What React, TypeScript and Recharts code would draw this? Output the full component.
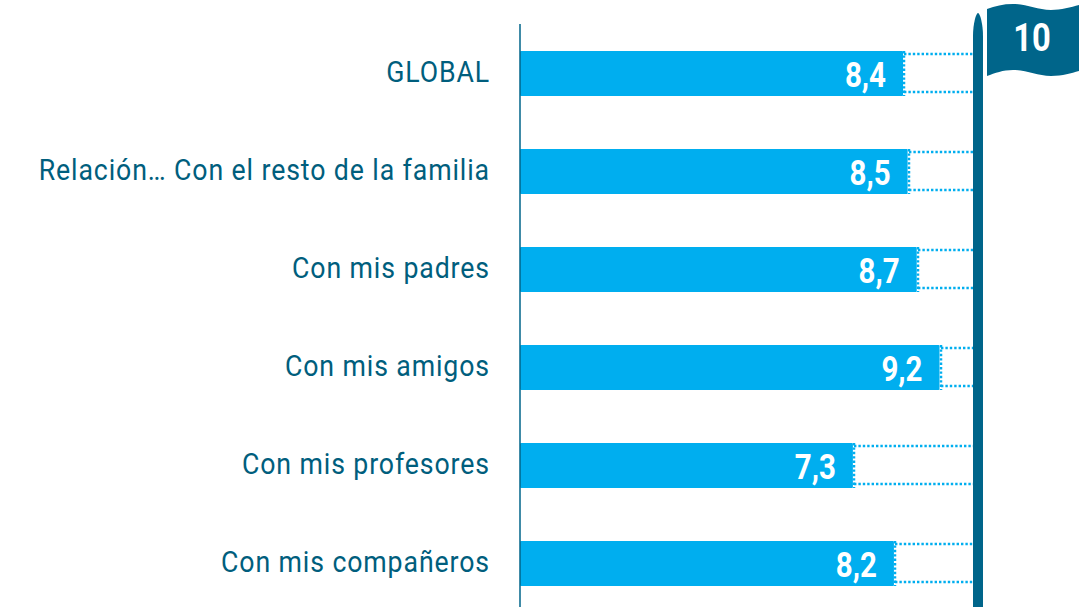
import React from "react";
import { BarChart, Bar, XAxis, YAxis, ReferenceLine, LabelList } from "recharts";

const categories = [
  "GLOBAL",
  "Relación… Con el resto de la familia",
  "Con mis padres",
  "Con mis amigos",
  "Con mis profesores",
  "Con mis compañeros",
];
const values = [8.4, 8.5, 8.7, 9.2, 7.3, 8.2];
const maxScore = 10;

const table = categories.map((name, i) => ({
  name,
  value: values[i],
  rest: +(maxScore - values[i]).toFixed(1),
}));

const BLUE = "#00AEEF";
const DARK = "#00658A";
const TEXT = "#005E7D";
const FONT = 'Roboto, sans-serif';

const DottedRest = (p: any) => {
  const { x, y, width, height } = p;
  const top = Math.round(y) + 3;
  const bottom = Math.round(y + height) - 4;
  const lx = Math.round(x) + 1;
  const common = { stroke: BLUE, strokeWidth: 2.5, strokeDasharray: "2.4 2", fill: "none" };
  return (
    <g>
      <line x1={lx} x2={x + width} y1={top} y2={top} {...common} />
      <line x1={lx} x2={x + width} y1={bottom} y2={bottom} {...common} />
      <line x1={lx} x2={lx} y1={y} y2={y + height} {...common} />
    </g>
  );
};

const Flag = (p: any) => {
  const cx = p.x1 + 2;
  const fx = cx + 9;
  return (
    <g>
      <path
        d={`M${cx - 5} 612 L${cx - 5} 36 C${cx - 5} 24 ${cx - 2} 13 ${cx} 13 C${cx + 2} 13 ${cx + 5} 24 ${cx + 5} 36 L${cx + 5} 612 Z`}
        fill={DARK}
      />
      <path
        d={`M${fx} 9 C${fx + 8} 6 ${fx + 16} 4 ${fx + 26} 4 C${fx + 40} 4 ${fx + 50} 10 ${fx + 64} 10 C${fx + 74} 10 ${fx + 84} 7 ${fx + 92} 5 L${fx + 92} 71 C${fx + 84} 73 ${fx + 76} 76 ${fx + 64} 76 C${fx + 50} 76 ${fx + 40} 70 ${fx + 26} 70 C${fx + 16} 70 ${fx + 8} 73 ${fx} 76 Z`}
        fill={DARK}
      />
      <text
        transform={`translate(${fx + 45} 51) scale(0.84 1)`}
        textAnchor="middle"
        fill="#fff"
        fontFamily={FONT}
        fontWeight={700}
        fontSize={39}
      >
        {maxScore}
      </text>
    </g>
  );
};

const CategoryTick = (p: any) => (
  <text
    transform={`translate(${p.x + 6} ${p.y + 9}) scale(0.89 1)`}
    textAnchor="end"
    fill={TEXT}
    fontFamily={FONT}
    fontSize={30}
    letterSpacing={1}
  >
    {p.payload.value}
  </text>
);

const ValueLabel = (p: any) => (
  <text
    transform={`translate(${p.x + p.width - 17} ${p.y + p.height / 2 + 13}) scale(0.82 1)`}
    textAnchor="end"
    fill="#fff"
    fontFamily={FONT}
    fontWeight={700}
    fontSize={36}
  >
    {String(p.value).replace(".", ",")}
  </text>
);

export default function App() {
  return (
    <div style={{ position: "absolute", left: 0, top: 0, width: 1084, height: 607, overflow: "hidden" }}>
      <BarChart
        width={1084}
        height={612}
        data={table}
        layout="vertical"
        margin={{ top: 24, right: 108, bottom: 0, left: 0 }}
        barSize={45}
        style={{ overflow: "visible" }}
      >
        <XAxis type="number" domain={[0, maxScore]} hide />
        <YAxis
          type="category"
          dataKey="name"
          width={520}
          interval={0}
          tickLine={false}
          tickMargin={30}
          tick={<CategoryTick />}
          axisLine={{ stroke: DARK, strokeWidth: 1.5 }}
        />
        <Bar dataKey="value" stackId="a" fill={BLUE} radius={1} isAnimationActive={false}>
          <LabelList dataKey="value" content={<ValueLabel />} />
        </Bar>
        <Bar dataKey="rest" stackId="a" fill="none" shape={<DottedRest />} isAnimationActive={false} />
        <ReferenceLine x={maxScore} shape={<Flag />} />
      </BarChart>
    </div>
  );
}
